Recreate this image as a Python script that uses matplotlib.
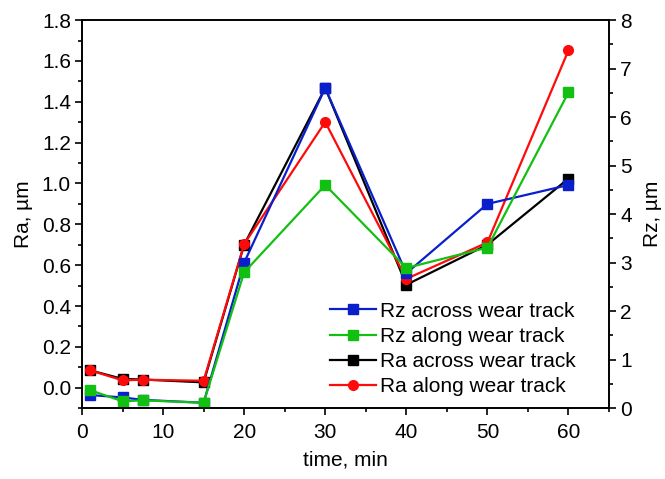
import numpy as np
import matplotlib
matplotlib.use("Agg")
from matplotlib import pyplot as plt
from matplotlib.ticker import MultipleLocator

plt.rcParams["font.family"] = ["Liberation Sans", "DejaVu Sans"]

# time points, min
time = [1, 5, 7.5, 15, 20, 30, 40, 50, 60]

# Rz (right axis), um
rz_across = [0.27, 0.22, 0.17, 0.11, 3.00, 6.60, 2.78, 4.21, 4.60]
rz_along = [0.37, 0.14, 0.16, 0.11, 2.80, 4.60, 2.89, 3.31, 6.51]

# Ra (left axis), um
ra_across = [0.085, 0.043, 0.040, 0.026, 0.70, 1.468, 0.504, 0.70, 1.024]
ra_along = [0.085, 0.036, 0.039, 0.034, 0.703, 1.301, 0.533, 0.711, 1.652]

labels = ["Rz across wear track", "Rz along wear track",
          "Ra across wear track", "Ra along wear track"]

blue = "#0a1fcc"
green = "#12c012"
red = "#ff0a0a"

fig = plt.figure(figsize=(6.65, 4.79), dpi=100)
ax = fig.add_axes([0.1233, 0.148, 0.7925, 0.810])
ax2 = ax.twinx()

l3, = ax.plot(time, ra_across, color="black", marker="s", ms=6.5, lw=1.6, label=labels[2])
l4, = ax.plot(time, ra_along, color=red, marker="o", ms=7, lw=1.6, label=labels[3])
l1, = ax2.plot(time, rz_across, color=blue, marker="s", ms=7, lw=1.6, label=labels[0])
l2, = ax2.plot(time, rz_along, color=green, marker="s", ms=7, lw=1.6, label=labels[1])

ax.set_xlim(0, 65)
ax.set_ylim(-0.1, 1.8)
ax2.set_ylim(0, 8)

ax.xaxis.set_major_locator(MultipleLocator(10))
ax.xaxis.set_minor_locator(MultipleLocator(5))
ax.yaxis.set_major_locator(MultipleLocator(0.2))
ax.yaxis.set_minor_locator(MultipleLocator(0.1))
ax2.yaxis.set_major_locator(MultipleLocator(1))
ax2.yaxis.set_minor_locator(MultipleLocator(0.5))
ax.yaxis.set_major_formatter(matplotlib.ticker.FormatStrFormatter("%.1f"))

for a in (ax, ax2):
    for s in a.spines.values():
        s.set_linewidth(1.2)
ax.tick_params(which="major", direction="out", length=5, width=1.2, labelsize=15, top=False, right=False, pad=3)
ax.tick_params(axis="x", which="major", pad=6)
ax.tick_params(which="minor", direction="out", length=3, width=1.2, top=False, right=False)
ax2.tick_params(which="major", direction="out", length=5, width=1.2, labelsize=15, pad=3)
ax2.tick_params(which="minor", direction="out", length=3, width=1.2)

ax.set_xlabel("time, min", fontsize=15, labelpad=6)
ax.set_ylabel("Ra, µm", fontsize=15, labelpad=6)
ax2.set_ylabel("Rz, µm", fontsize=15, labelpad=8)

ax2.legend(handles=[l1, l2, l3, l4], loc="lower left", bbox_to_anchor=(0.47, 0.03),
           frameon=False, fontsize=15, handlelength=2.2, handletextpad=0.2,
           labelspacing=0.3, borderpad=0, borderaxespad=0)

fig.savefig("out.png", dpi=100)
